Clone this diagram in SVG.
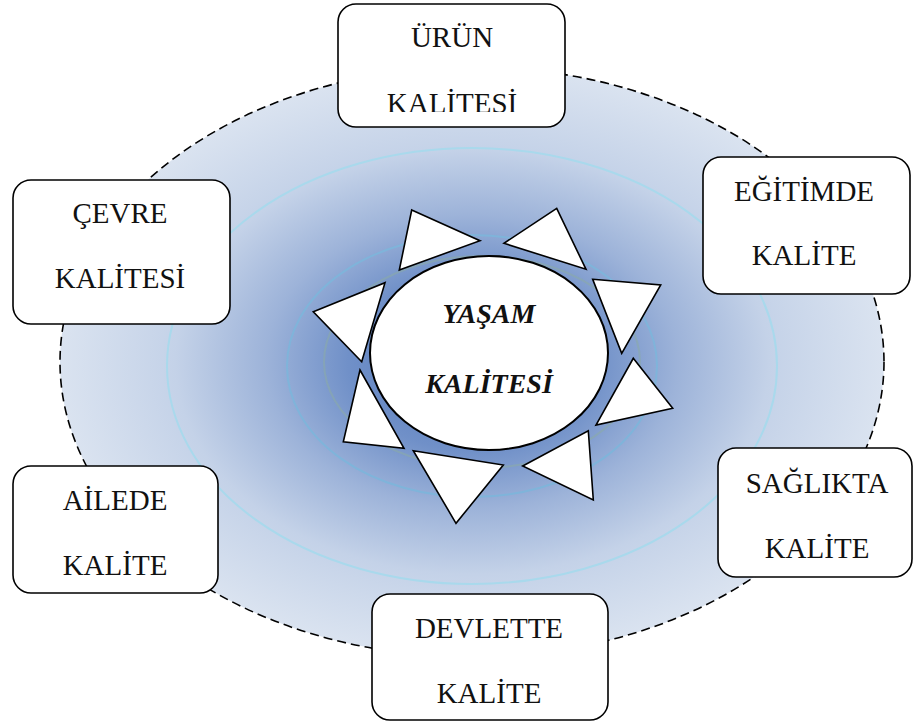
<svg xmlns="http://www.w3.org/2000/svg" width="914" height="724" viewBox="0 0 914 724">
  <defs>
    <radialGradient id="glow" cx="0.5" cy="0.5" r="0.5">
      <stop offset="0" stop-color="#5075b8"/>
      <stop offset="0.3" stop-color="#7090c8"/>
      <stop offset="0.5" stop-color="#9db3d9"/>
      <stop offset="0.72" stop-color="#c4d2e8"/>
      <stop offset="1" stop-color="#dae3f0"/>
    </radialGradient>
    <clipPath id="urunClip">
      <rect x="330" y="0" width="250" height="112"/>
    </clipPath>
    <style>
      .box { fill: #ffffff; stroke: #000000; stroke-width: 1.6; }
      .lbl { font-family: "Times New Roman", "Liberation Serif", serif; font-size: 29px; fill: #111111; text-anchor: middle; }
      .core { font-family: "Times New Roman", "Liberation Serif", serif; font-size: 28px; font-weight: bold; font-style: italic; fill: #111111; text-anchor: middle; }
      .ray { fill: #ffffff; stroke: #000000; stroke-width: 1.6; stroke-linejoin: miter; }
      .ring { fill: none; stroke-width: 2; }
    </style>
  </defs>

  <!-- background halo with dashed outline -->
  <g id="halo">
    <ellipse cx="472" cy="362" rx="412" ry="295" fill="url(#glow)" stroke="#000000" stroke-width="1.6" stroke-dasharray="9 5"/>
    <ellipse class="ring" cx="472" cy="366" rx="305" ry="218" stroke="#a9d9ec"/>
    <ellipse class="ring" cx="472" cy="366" rx="185" ry="131" stroke="#7fb4da"/>
    <ellipse class="ring" cx="482" cy="362" rx="158" ry="106" stroke="#8aaaa8" stroke-opacity="0.6"/>
  </g>

  <!-- sun rays around the centre -->
  <g id="rays">
    <polygon class="ray" points="411.7,210 480,240.7 399.3,270"/>
    <polygon class="ray" points="556.7,208.3 586,269.3 504,243.3"/>
    <polygon class="ray" points="592.7,279.3 660.7,285 621.7,353.3"/>
    <polygon class="ray" points="633.3,358.3 672.7,408.3 596,425"/>
    <polygon class="ray" points="588.3,430.7 593.3,500 522.7,466"/>
    <polygon class="ray" points="413.3,450.7 503.3,465 456,523.3"/>
    <polygon class="ray" points="360,370 404,448.3 343.3,441.7"/>
    <polygon class="ray" points="313.3,311.7 385,282.7 361.7,361.7"/>
  </g>

  <!-- centre node -->
  <g id="yasam-kalitesi">
    <ellipse cx="489" cy="353" rx="119" ry="97" fill="#ffffff" stroke="#000000" stroke-width="2"/>
    <text class="core" x="489" y="323">YAŞAM</text>
    <text class="core" x="489" y="393">KALİTESİ</text>
  </g>

  <g id="urun-kalitesi">
    <rect class="box" x="338" y="4" width="227" height="123" rx="18"/>
    <text class="lbl" x="452" y="47">ÜRÜN</text>
    <text class="lbl" x="452" y="113" clip-path="url(#urunClip)">KALİTESİ</text>
  </g>

  <g id="egitimde-kalite">
    <rect class="box" x="703" y="157" width="207" height="137" rx="18"/>
    <text class="lbl" x="804" y="201">EĞİTİMDE</text>
    <text class="lbl" x="804" y="265">KALİTE</text>
  </g>

  <g id="saglikta-kalite">
    <rect class="box" x="718" y="448" width="194" height="129" rx="18"/>
    <text class="lbl" x="817" y="493">SAĞLIKTA</text>
    <text class="lbl" x="817" y="558">KALİTE</text>
  </g>

  <g id="devlette-kalite">
    <rect class="box" x="372" y="594" width="236" height="126" rx="18"/>
    <text class="lbl" x="489" y="638">DEVLETTE</text>
    <text class="lbl" x="489" y="703">KALİTE</text>
  </g>

  <g id="ailede-kalite">
    <rect class="box" x="13" y="466" width="205" height="127" rx="18"/>
    <text class="lbl" x="115" y="510">AİLEDE</text>
    <text class="lbl" x="115" y="575">KALİTE</text>
  </g>

  <g id="cevre-kalitesi">
    <rect class="box" x="13" y="180" width="217" height="144" rx="18"/>
    <text class="lbl" x="120" y="223">ÇEVRE</text>
    <text class="lbl" x="120" y="288">KALİTESİ</text>
  </g>
</svg>
